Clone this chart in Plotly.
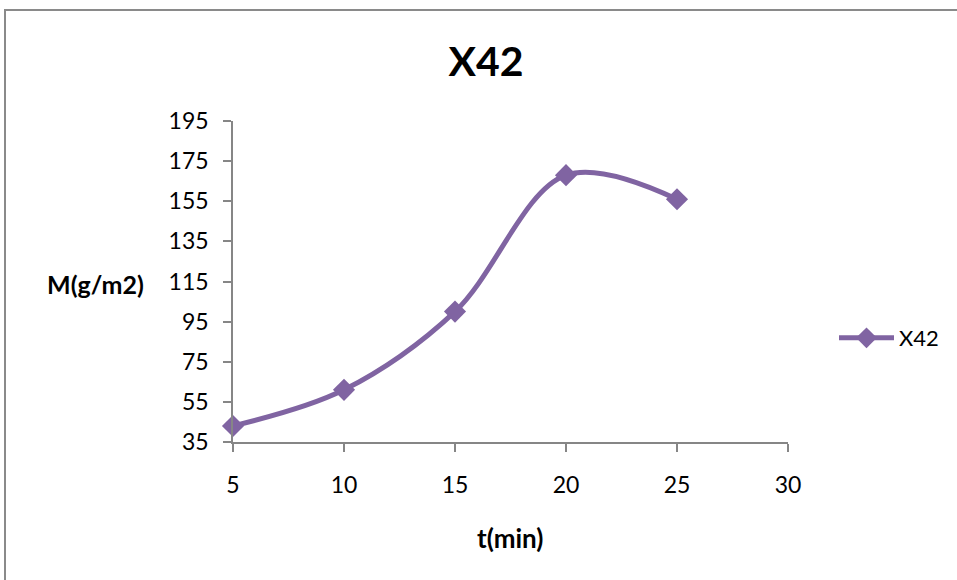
import plotly.graph_objects as go

# Mass per area over time for sample X42
t_min = [5, 10, 15, 20, 25]
mass_g_m2 = [43, 61, 100, 168, 156]
series_name = "X42"
x_ticks = [5, 10, 15, 20, 25, 30]
y_ticks = [35, 55, 75, 95, 115, 135, 155, 175, 195]

W, H = 957, 580
L, R, T, B = 233, 788, 121, 442
FONT = "Lato, Carlito, 'Open Sans', sans-serif"
PURPLE = "#8064A2"
AXIS_GREY = "#868686"

fig = go.Figure()
fig.add_trace(go.Scatter(
    x=t_min, y=mass_g_m2, name=series_name,
    mode="lines+markers", cliponaxis=False,
    line=dict(color=PURPLE, width=5, shape="spline", smoothing=1.0),
    marker=dict(symbol="diamond", size=17, color=PURPLE),
))

def px_x(p):
    return (p - L) / (R - L)

def px_y(p):
    return (B - p) / (B - T)

fig.update_layout(
    width=W, height=H,
    margin=dict(l=L, r=W - R, t=T, b=H - B, pad=0),
    paper_bgcolor="white", plot_bgcolor="white",
    font=dict(family=FONT, size=23, color="black"),
    title=dict(text="<b>X42</b>", font=dict(size=41, family=FONT),
               x=486 / W, xref="container",
               y=1 - 62 / H, yref="container", xanchor="center", yanchor="middle"),
    xaxis=dict(range=[5, 30], tickvals=x_ticks, showgrid=False, zeroline=False,
               showline=True, linecolor=AXIS_GREY, linewidth=1.5,
               ticks="outside", ticklen=8, tickcolor=AXIS_GREY, tickwidth=1.5,
               ticklabelstandoff=14, tickfont=dict(size=23)),
    yaxis=dict(range=[35, 195], tickvals=y_ticks, showgrid=False, zeroline=False,
               showline=True, linecolor=AXIS_GREY, linewidth=1.5,
               ticks="outside", ticklen=8, tickcolor=AXIS_GREY, tickwidth=1.5,
               ticklabelstandoff=10, tickfont=dict(size=23)),
    legend=dict(x=px_x(834), y=px_y(338), xanchor="left", yanchor="middle",
                itemwidth=55, font=dict(size=22), bgcolor="rgba(0,0,0,0)"),
    showlegend=True,
    annotations=[
        dict(text="<b>M(g/m2)</b>", x=px_x(95), y=px_y(284), xref="paper", yref="paper",
             showarrow=False, xanchor="center", yanchor="middle", font=dict(size=25)),
        dict(text="<b>t(min)</b>", x=px_x(510), y=px_y(538), xref="paper", yref="paper",
             showarrow=False, xanchor="center", yanchor="middle", font=dict(size=26)),
    ],
    shapes=[
        dict(type="rect", xref="paper", yref="paper",
             x0=px_x(5), y0=px_y(600), x1=px_x(1000), y1=px_y(10),
             line=dict(color="#8a8a8a", width=2), fillcolor="rgba(0,0,0,0)", layer="below"),
    ],
)

fig.write_html("out.html")
